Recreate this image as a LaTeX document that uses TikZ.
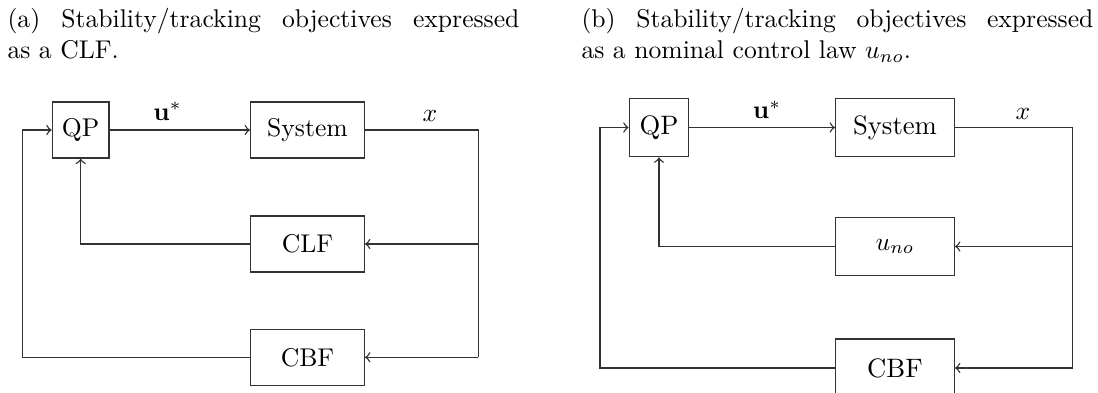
\documentclass[tikz,border=0pt]{standalone}
\usepackage{amsmath}
\newlength\pxl
\setlength\pxl{0.39pt}
\begin{document}
\begin{tikzpicture}[x=0.39pt,y=-0.39pt,
  ln/.style={draw=black!80, line width=0.55pt},
  arr/.style={ln,->},
  blk/.style={draw=black!80, line width=0.55pt, inner sep=0pt, minimum height={56*\pxl}},
  blkb/.style={draw=black!80, line width=0.55pt, inner sep=0pt, minimum height={58.4*\pxl}, font=\fontsize{10.4}{12}\selectfont},
  captxt/.style={anchor=base west, inner sep=0pt},
  lbl/.style={inner sep=0pt, anchor=base}]
\useasboundingbox (0,0) rectangle (1098,392);
\clip (0,0) rectangle (1098,392);

% captions
\node[captxt] (capa1) at (7,27) {\hbox to 512\pxl{(a)\hfill Stability/tracking\hfill objectives\hfill expressed}};
\node[captxt] (capa2) at (7,58.5) {as a CLF.};
\node[captxt] (capb1) at (581,27) {\hbox to 512\pxl{(b)\hfill Stability/tracking\hfill objectives\hfill expressed}};
\node[captxt] (capb2) at (581,58.5) {as a nominal control law $u_{no}$.};

% ---------- panel (a)
\node[blk, minimum width={56.7*\pxl}] (qpa) at (80.7,130) {QP};
\node[blk, minimum width={113.6*\pxl}] (sysa) at (307.5,130) {System};
\node[blk, minimum width={113.6*\pxl}] (clfa) at (307.5,244) {CLF};
\node[blk, minimum width={113.6*\pxl}] (cbfa) at (307.5,357.3) {CBF};
\coordinate (ra1) at (478.3,130);
\coordinate (ra2) at (478.3,244);
\coordinate (ra3) at (478.3,357.3);
\coordinate (la1) at (22.7,130);
\coordinate (la3) at (22.7,357.3);
\coordinate (ma2) at (80.7,244);
\node[lbl] (ua) at (167.5,120) {$\mathbf{u}^{*}$};
\node[lbl] (xa) at (430,121.5) {$x$};
\draw[arr] (qpa.east) -- (sysa.west);
\draw[ln] (sysa.east) -- (ra1) -- (ra3);
\draw[arr] (ra2) -- (clfa.east);
\draw[arr] (ra3) -- (cbfa.east);
\draw[arr] (clfa.west) -- (ma2) -- (qpa.south);
\draw[arr] (cbfa.west) -- (la3) -- (la1) -- (qpa.west);

% ---------- panel (b)
\node[blkb, minimum width={59.4*\pxl}] (qpb) at (659,127.5) {QP};
\node[blkb, minimum width={118.6*\pxl}] (sysb) at (895,127.5) {System};
\node[blkb, minimum width={118.6*\pxl}] (unob) at (895,246.5) {$u_{no}$};
\node[blkb, minimum width={118.6*\pxl}] (cbfb) at (895,368) {CBF};
\coordinate (rb1) at (1072.5,127.5);
\coordinate (rb2) at (1072.5,246.5);
\coordinate (rb3) at (1072.5,368);
\coordinate (lb1) at (600,127.5);
\coordinate (lb3) at (600,368);
\coordinate (mb2) at (659,246.5);
\node[lbl] (ub) at (767,118.5) {\fontsize{10.4}{12}\selectfont$\mathbf{u}^{*}$};
\node[lbl] (xb) at (1023,119.3) {\fontsize{10.4}{12}\selectfont$x$};
\draw[arr] (qpb.east) -- (sysb.west);
\draw[ln] (sysb.east) -- (rb1) -- (rb3);
\draw[arr] (rb2) -- (unob.east);
\draw[arr] (rb3) -- (cbfb.east);
\draw[arr] (unob.west) -- (mb2) -- (qpb.south);
\draw[arr] (cbfb.west) -- (lb3) -- (lb1) -- (qpb.west);
\end{tikzpicture}
\end{document}
